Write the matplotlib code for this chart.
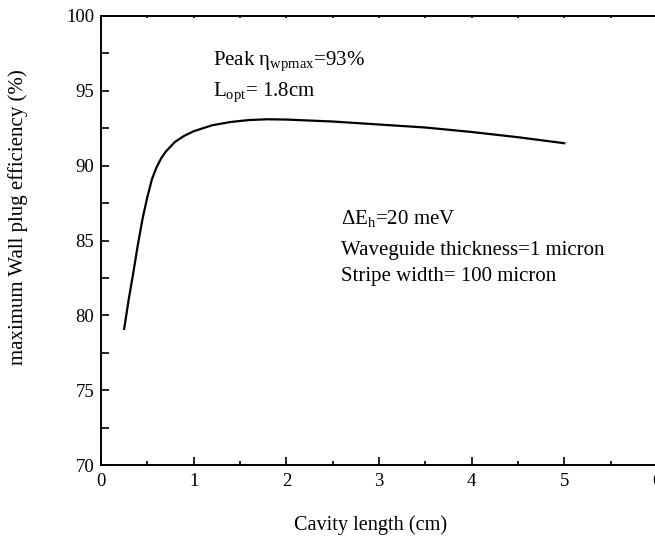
import matplotlib
matplotlib.use("Agg")
import matplotlib.pyplot as plt
from matplotlib.ticker import MultipleLocator

plt.rcParams['font.family'] = ['Liberation Serif', 'DejaVu Serif']
plt.rcParams['mathtext.fontset'] = 'custom'
plt.rcParams['mathtext.rm'] = 'Liberation Serif'
plt.rcParams['mathtext.it'] = 'Liberation Serif:italic'

# cavity length (cm) vs maximum wall plug efficiency (%)
length = [0.25, 0.3, 0.35, 0.4, 0.45, 0.5, 0.55, 0.6, 0.65, 0.7, 0.8, 0.9, 1.0,
          1.2, 1.4, 1.6, 1.8, 2.0, 2.5, 3.0, 3.5, 4.0, 4.5, 5.0]
eff = [79.1, 81.1, 82.9, 84.8, 86.5, 87.9, 89.1, 89.9, 90.5, 90.95, 91.6, 92.0, 92.3,
       92.7, 92.92, 93.05, 93.1, 93.08, 92.95, 92.75, 92.55, 92.25, 91.9, 91.5]

fig = plt.figure(figsize=(6.55, 5.37), dpi=100)
ax = fig.add_axes([101/655, 72/537, 556/655, 449/537])

ax.plot(length, eff, color='black', lw=1.6)

ax.set_xlim(0, 6)
ax.set_ylim(70, 100)
ax.xaxis.set_major_locator(MultipleLocator(1))
ax.xaxis.set_minor_locator(MultipleLocator(0.5))
ax.yaxis.set_major_locator(MultipleLocator(5))
ax.yaxis.set_minor_locator(MultipleLocator(2.5))

ax.tick_params(which='both', direction='in', labelsize=13.5, width=1.2)
ax.tick_params(axis='x', which='major', length=6, pad=6)
ax.tick_params(axis='x', which='minor', length=3)
ax.tick_params(axis='y', which='both', length=6, pad=5)
ax.tick_params(axis='x', which='both', top=True)
for t in ax.xaxis.get_ticklines(minor=False)[1::2] + ax.xaxis.get_ticklines(minor=True)[1::2]:
    t.set_markersize(1.5)
for s in ax.spines.values():
    s.set_linewidth(1.4)

ax.set_xlabel('Cavity length (cm)', fontsize=14.6)
ax.set_ylabel('maximum Wall plug efficiency (%)', fontsize=15)
ax.xaxis.set_label_coords(0.484, -0.112)
ax.yaxis.set_label_coords(-0.132, 0.551)

fs = 15
ax.text(1.21, 96.74, r'Peak η$_{\mathrm{wpmax}}$=93%', fontsize=fs, va='baseline')
ax.text(1.21, 94.63, r'L$_{\mathrm{opt}}$= 1.8cm', fontsize=fs, va='baseline')
ax.text(2.59, 86.09, r'ΔE$_{\mathrm{h}}$=20 meV', fontsize=fs, va='baseline')
ax.text(2.59, 84.03, 'Waveguide thickness=1 micron', fontsize=fs, va='baseline')
ax.text(2.59, 82.30, 'Stripe width= 100 micron', fontsize=fs, va='baseline')

fig.savefig('out.png', dpi=100)
